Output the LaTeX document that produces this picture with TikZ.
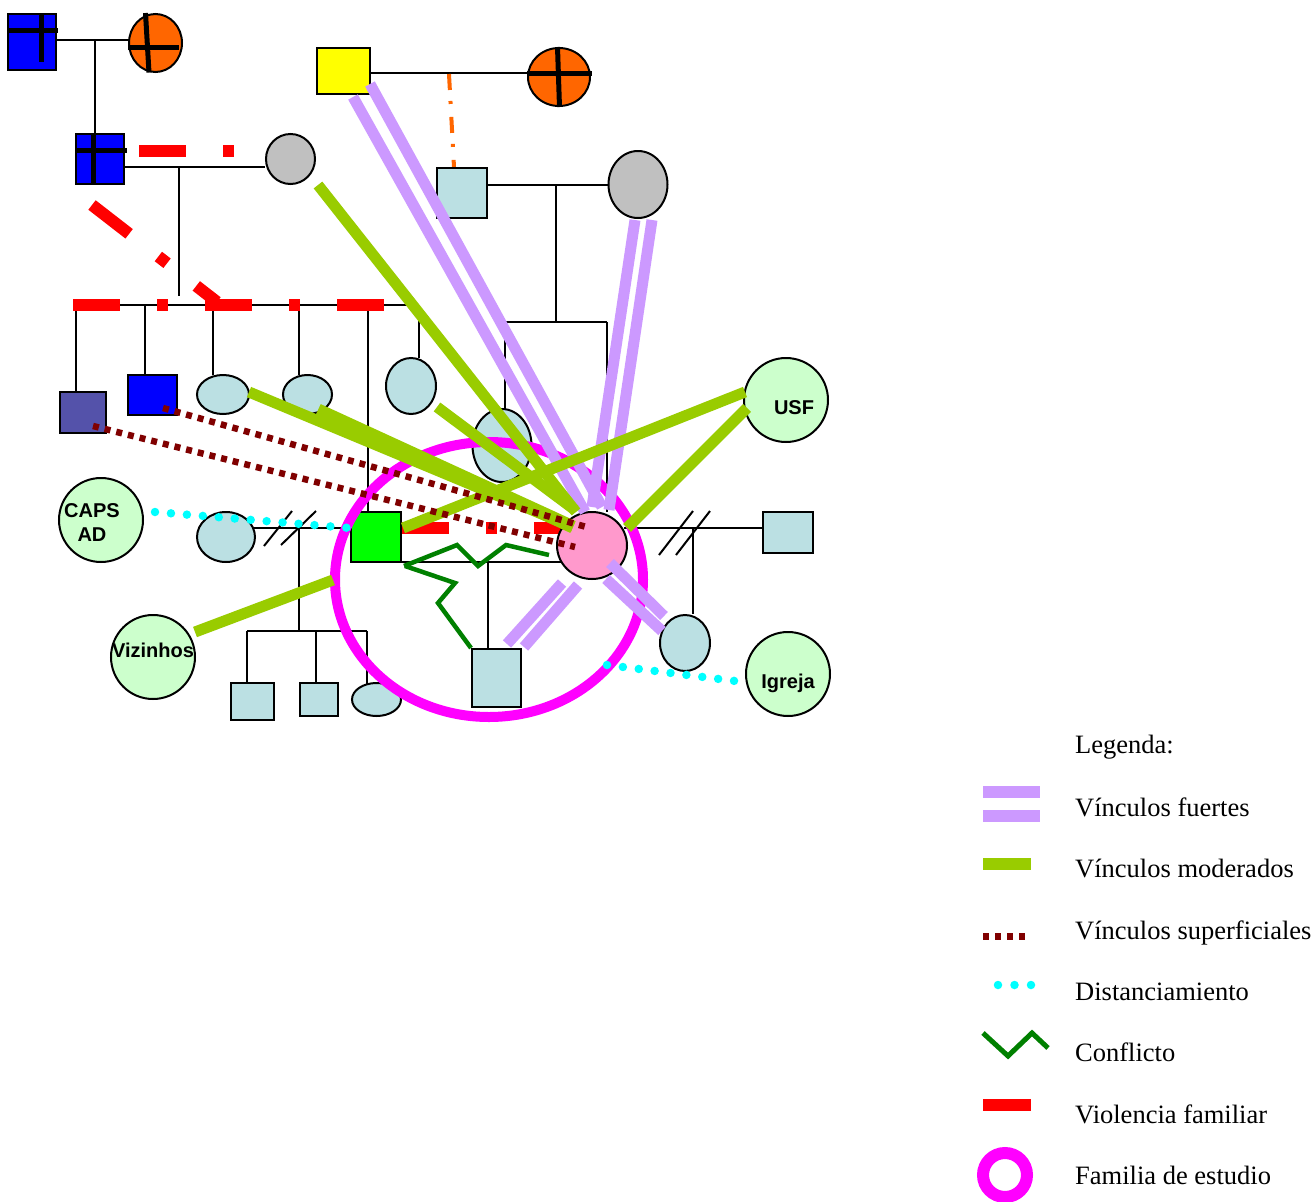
\documentclass[tikz,border=0pt]{standalone}
\usepackage{fontspec}
\setmainfont{Liberation Serif}
\newfontfamily\labelfont{Liberation Sans}
\usetikzlibrary{shapes.geometric}
\definecolor{cblue}{HTML}{0000FF}
\definecolor{corange}{HTML}{FF6600}
\definecolor{cyellow}{HTML}{FFFF00}
\definecolor{cgray}{HTML}{C0C0C0}
\definecolor{clblue}{HTML}{BBE0E3}
\definecolor{cviolet}{HTML}{5452AA}
\definecolor{cgreen}{HTML}{00FF00}
\definecolor{cpink}{HTML}{FF99CC}
\definecolor{clgreen}{HTML}{CCFFCC}
\definecolor{vpurple}{HTML}{CC99FF}
\definecolor{vgreen}{HTML}{99CC00}
\definecolor{vdred}{HTML}{800000}
\definecolor{vcyan}{HTML}{00FFFF}
\definecolor{vconf}{HTML}{008000}
\definecolor{vred}{HTML}{FF0000}
\definecolor{vmag}{HTML}{FF00FF}
\tikzset{
 person/.style={draw=black, line width=2pt, inner sep=0pt, outer sep=0pt},
 sq/.style={person, rectangle},
 el/.style={person, ellipse},
 kin/.style={draw=black, line width=2pt},
 deadmark/.style={draw=black, line width=5pt},
 strong/.style={draw=vpurple, line width=11pt},
 moderate/.style={draw=vgreen, line width=11pt},
 superf/.style={draw=vdred, line width=6.5pt, dash pattern=on 6pt off 6pt},
 distant/.style={draw=vcyan, line width=8.5pt, line cap=round, dash pattern=on 0pt off 16pt},
 conflict/.style={draw=vconf, line width=4.5pt},
 violence/.style={draw=vred, line width=12pt, dash pattern=on 47pt off 37pt on 11pt off 37pt},
 family/.style={draw=vmag, line width=10pt},
 community/.style={circle, draw=black, line width=2pt, fill=clgreen, minimum size=84pt, inner sep=0pt},
 ctext/.style={font=\labelfont\bfseries\fontsize{20}{24}\selectfont, align=center, inner sep=0pt},
 legtext/.style={anchor=base west, inner sep=0pt, font=\fontsize{26.5}{30}\selectfont},
}
\begin{document}
\begin{tikzpicture}[x=1pt, y=-1pt]
\useasboundingbox (0,0) rectangle (1315,1202);
\fill[white] (0,0) rectangle (1315,1202);

% ---------------- kinship lines ----------------
\draw[kin] (57,40) -- (128,40);
\draw[kin] (95,40) -- (95,133);
\draw[kin] (125,167) -- (265,167);
\draw[kin] (179,167) -- (179,296);
\draw[kin] (76,305) -- (419,305);
\draw[kin] (76,305) -- (76,391);
\draw[kin] (145,305) -- (145,374);
\draw[kin] (213,305) -- (213,375);
\draw[kin] (299,305) -- (299,375);
\draw[kin] (368,305) -- (368,511);
\draw[kin] (419,305) -- (419,358);
\draw[kin] (371,73) -- (528,73);
\draw[kin] (488,185) -- (608,185);
\draw[kin] (556,185) -- (556,322);
\draw[kin] (505,322) -- (607,322);
\draw[kin] (505,322) -- (505,409);
\draw[kin] (607,322) -- (607,512);
\draw[kin] (252,528) -- (350,528);
\draw[kin] (264,546) -- (292,511);
\draw[kin] (281,545) -- (316,511);
\draw[kin] (299,528) -- (299,631);
\draw[kin] (247,631) -- (367,631);
\draw[kin] (247,631) -- (247,682);
\draw[kin] (316,631) -- (316,682);
\draw[kin] (367,631) -- (367,690);
\draw[kin] (402,562) -- (568,562);
\draw[kin] (488,562) -- (488,648);
\draw[kin] (624,528) -- (762,528);
\draw[kin] (659,555) -- (693,511);
\draw[kin] (676,555) -- (710,511);
\draw[kin] (693,528) -- (693,614);
\draw[draw=corange, line width=4pt, dash pattern=on 16pt off 11pt on 3pt off 13pt] (449,74) -- (454,167);

% ---------------- violence ----------------
\draw[violence] (139,151) -- (262,151);
\draw[violence] (92,205) -- (217,302);
\draw[violence] (73,305) -- (419,305);
\draw[violence] (402,528) -- (570,528);

% ---------------- persons ----------------
\node[sq, fill=cblue, minimum width=48pt, minimum height=56pt] (A) at (32,42) {};
\node[el, fill=corange, minimum width=53pt, minimum height=58pt] (B) at (155.5,43) {};
\node[sq, fill=cblue, minimum width=48pt, minimum height=50pt] (C) at (100,159) {};
\node[el, fill=cgray, minimum width=49pt, minimum height=50pt] (D) at (290.5,159) {};
\node[sq, fill=cyellow, minimum width=53pt, minimum height=46pt] (E) at (343.5,71) {};
\node[el, fill=corange, minimum width=62pt, minimum height=58pt] (F) at (559,77) {};
\node[sq, fill=clblue, minimum width=50pt, minimum height=50pt] (G) at (462,193) {};
\node[el, fill=cgray, minimum width=59pt, minimum height=67pt] (H) at (638,184.5) {};
\node[sq, fill=cviolet, minimum width=46pt, minimum height=41pt] (c1) at (83,412) {};
\node[sq, fill=cblue, minimum width=49pt, minimum height=40pt] (c2) at (152.5,394.5) {};
\node[el, fill=clblue, minimum width=52pt, minimum height=39pt] (c3) at (223,394.5) {};
\node[el, fill=clblue, minimum width=49pt, minimum height=39pt] (c4) at (307.5,394.5) {};
\node[el, fill=clblue, minimum width=50pt, minimum height=56pt] (c6) at (411,386) {};
\node[sq, fill=cgreen, minimum width=50pt, minimum height=50pt] (K) at (376,537) {};
\node[el, fill=clblue, minimum width=59pt, minimum height=73pt] (I) at (502,445.5) {};
\node[el, fill=cpink, minimum width=70pt, minimum height=67pt] (J) at (592,545.5) {};
\node[el, fill=clblue, minimum width=58pt, minimum height=50pt] (L) at (226,537) {};
\node[sq, fill=clblue, minimum width=50pt, minimum height=41pt] (N) at (788,532.5) {};
\node[el, fill=clblue, minimum width=50pt, minimum height=56pt] (O) at (685,643) {};
\node[sq, fill=clblue, minimum width=49pt, minimum height=58pt] (M) at (496.5,678) {};
\node[sq, fill=clblue, minimum width=43pt, minimum height=37pt] (g1) at (252.5,701.5) {};
\node[sq, fill=clblue, minimum width=38pt, minimum height=33pt] (g2) at (319,699.5) {};
\node[el, fill=clblue, minimum width=49pt, minimum height=33pt] (g3) at (376.5,699.5) {};

% deceased crosses
\draw[deadmark] (7,30) -- (58,30);
\draw[deadmark] (41,13) -- (41,62);
\draw[deadmark] (128,47.5) -- (179,47.5);
\draw[deadmark] (145.5,13) -- (149,72.5);
\draw[deadmark] (75,150) -- (127,150);
\draw[deadmark] (93,133) -- (93,185);
\draw[deadmark] (527,73) -- (592,73);
\draw[deadmark] (557.5,47) -- (559.5,107);

% ---------------- family of study ----------------
\draw[family] (489,579.5) ellipse [x radius=154pt, y radius=137.5pt];

% ---------------- community ----------------
\node[community] (caps) at (101,520) {};
\node[community] (usf) at (786,400) {};
\node[community] (viz) at (153,657) {};
\node[community] (igr) at (788,674) {};

% ---------------- relation endpoints ----------------
\coordinate (pa1) at (353,97);  \coordinate (pa2) at (585,512);
\coordinate (pb1) at (370,84);  \coordinate (pb2) at (602,507);
\coordinate (pc1) at (635,220); \coordinate (pc2) at (592,507);
\coordinate (pd1) at (652,220); \coordinate (pd2) at (609,510);
\coordinate (pe1) at (507,644); \coordinate (pe2) at (562,583);
\coordinate (pf1) at (524,647); \coordinate (pf2) at (578,585);
\coordinate (pg1) at (610,563); \coordinate (pg2) at (664,616);
\coordinate (ph1) at (606,579); \coordinate (ph2) at (662,631);

\draw[strong] (pa1) -- (pa2);
\draw[strong] (pb1) -- (pb2);
\draw[strong] (pc1) -- (pc2);
\draw[strong] (pd1) -- (pd2);
\draw[strong] (pe1) -- (pe2);
\draw[strong] (pf1) -- (pf2);
\draw[strong] (pg1) -- (pg2);
\draw[strong] (ph1) -- (ph2);

\coordinate (ga1) at (318,185); \coordinate (ga2) at (576,512);
\coordinate (gb1) at (249,392); \coordinate (gb2) at (573,527);
\coordinate (gc1) at (318,410); \coordinate (gc2) at (573,527);
\coordinate (gd1) at (437,407); \coordinate (gd2) at (575,510);
\coordinate (ge1) at (403,528); \coordinate (ge2) at (745,392);
\coordinate (gf1) at (627,528); \coordinate (gf2) at (747,408);
\coordinate (gg1) at (195,632); \coordinate (gg2) at (333,580);

\draw[moderate] (ga1) -- (ga2);
\draw[moderate] (gb1) -- (gb2);
\draw[moderate, line width=13pt] (gc1) -- (gc2);
\draw[moderate] (gd1) -- (gd2);
\draw[moderate] (ge1) -- (ge2);
\draw[moderate] (gf1) -- (gf2);
\draw[moderate] (gg1) -- (gg2);

\coordinate (da1) at (93,426);  \coordinate (da2) at (575,547);
\coordinate (db1) at (163,408); \coordinate (db2) at (590,528);
\draw[superf] (da1) -- (da2);
\draw[superf] (db1) -- (db2);

\coordinate (ca1) at (155,512); \coordinate (ca2) at (350,528);
\coordinate (cb1) at (607,665); \coordinate (cb2) at (743,682);
\draw[distant] (ca1) -- (ca2);
\draw[distant] (cb1) -- (cb2);

\draw[conflict] (404,566) -- (457,545) -- (478,566) -- (506,545) -- (549,555);
\draw[conflict] (405,566) -- (455,583) -- (438,603) -- (471,648);

% ---------------- community labels ----------------
\node[ctext] at (92,523) {CAPS\\AD};
\node[ctext] at (794,408) {USF};
\node[ctext] at (153,650) {Vizinhos};
\node[ctext] at (788,683) {Igreja};

% ---------------- legend ----------------
\node[legtext] (l0) at (1075,753) {Legenda:};
\fill[vpurple] (983,786) rectangle (1040,798);
\fill[vpurple] (983,810) rectangle (1040,822);
\node[legtext] (l1) at (1075,816) {Vínculos fuertes};
\fill[vgreen] (983,858) rectangle (1031,870);
\node[legtext] (l2) at (1075,877) {Vínculos moderados};
\draw[superf, line width=7pt] (983,936.5) -- (1029,936.5);
\node[legtext] (l3) at (1075,939) {Vínculos superficiales};
\draw[distant, line width=8.5pt, dash pattern=on 0pt off 16.5pt] (998,985) -- (1032,985);
\node[legtext] (l4) at (1075,1000) {Distanciamiento};
\draw[conflict, line width=5pt] (983,1033) -- (1008,1056) -- (1032,1033) -- (1048,1048);
\node[legtext] (l5) at (1075,1061) {Conflicto};
\fill[vred] (983,1099) rectangle (1031,1111);
\node[legtext] (l6) at (1075,1123) {Violencia familiar};
\draw[vmag, line width=12pt] (1005,1175) ellipse [x radius=22pt, y radius=22pt];
\node[legtext] (l7) at (1075,1184) {Familia de estudio};
\end{tikzpicture}
\end{document}
